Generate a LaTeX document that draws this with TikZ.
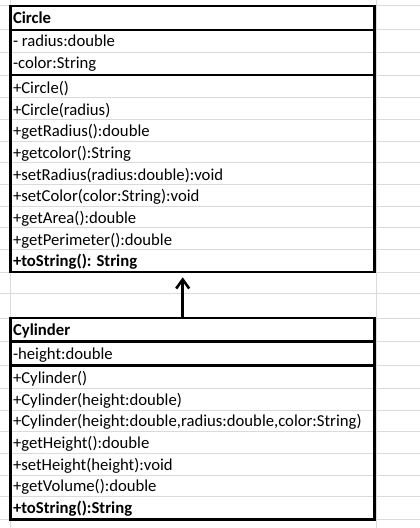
\documentclass[tikz,border=0pt]{standalone}
\usepackage{fontspec}
\setmainfont{Carlito}
\usetikzlibrary{arrows.meta}
\definecolor{gridgray}{RGB}{218,218,218}

\begin{document}
\begin{tikzpicture}[x=1pt, y={(0pt,-1pt)},
  member/.style={anchor=base west, inner sep=0pt, font=\fontsize{16.7}{19}\selectfont},
  classname/.style={member, font=\fontsize{16.7}{19}\selectfont\bfseries},
  classbox/.style={draw, line width=2.6pt, minimum width=364pt, inner sep=0pt},
  inherit/.style={-{Straight Barb[length=9pt,width=13pt]}, line width=2.6pt, shorten >=4pt}]
\useasboundingbox (0,0) rectangle (420,528);

% sheet grid
\foreach \y in {5,29.8,52.3,75,97.7,119.3,141,162.7,184.4,206.1,227.8,249.5,272,293.3,318,341.3,365.3,388.3,410,431.7,453.3,475,496.7,519.7}
  \draw[gridgray, line width=0.9pt] (0,\y) -- (420,\y);
\foreach \x in {10,376}
  \draw[gridgray, line width=0.9pt] (\x,0) -- (\x,528);

% class boxes
\node[classbox, minimum height=266.2pt] (circle) at (192.5,138.9) {};
\node[classbox, minimum height=201.7pt] (cylinder) at (192.5,418.85) {};
\foreach \y in {29.8,75,341.3,365.3}
  \draw[line width=2.6pt] (10.5,\y) -- (374.5,\y);

% Circle
\node[classname] (circle-name) at (12.8,23.3) {Circle};
\foreach \y/\t [count=\i] in {46.7/{- radius:double}, 68.8/{-color:String},
    93.3/{+Circle()}, 115/{+Circle(radius)}, 136.7/{+getRadius():double},
    158.3/{+getcolor():String}, 180/{+setRadius(radius:double):void},
    201.7/{+setColor(color:String):void}, 223.4/{+getArea():double},
    245.1/{+getPerimeter():double}}
  \node[member] (circle-\i) at (12.8,\y) {\t};
\node[classname] (circle-last) at (12.8,266.8) {+toString(): String};

% Cylinder
\node[classname] (cylinder-name) at (12.8,335) {Cylinder};
\foreach \y/\t [count=\i] in {359/{-height:double}, 383.3/{+Cylinder()},
    405/{+Cylinder(height:double)},
    426.7/{+Cylinder(height:double,radius:double,color:String)},
    448.4/{+getHeight():double}, 470.1/{+setHeight(height):void},
    491.8/{+getVolume():double}}
  \node[member] (cylinder-\i) at (12.8,\y) {\t};
\node[classname] (cylinder-last) at (12.8,513.8) {+toString():String};

% inheritance
\draw[inherit] ([xshift=-9.8pt]cylinder.north) -- ([xshift=-9.8pt]circle.south);
\end{tikzpicture}
\end{document}
